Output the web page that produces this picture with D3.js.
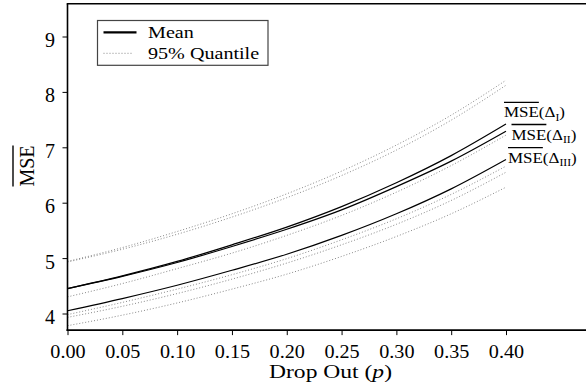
<!DOCTYPE html>
<html>
<head>
<meta charset="utf-8">
<script src="https://cdn.jsdelivr.net/npm/d3@7"></script>
<style>
  html, body { margin: 0; padding: 0; background: #fff; }
</style>
</head>
<body>
<div id="chart"></div>
<script>
// drop out probabilities
const dropOut = [0.00, 0.05, 0.10, 0.15, 0.20, 0.25, 0.30, 0.35, 0.40]
const xTicks = [0.00, 0.05, 0.10, 0.15, 0.20, 0.25, 0.30, 0.35, 0.40]
const yTicks = [4, 5, 6, 7, 8, 9]

// mean MSE curves
const meanI   = [4.45, 4.68, 4.94, 5.24, 5.56, 5.93, 6.36, 6.85, 7.42]
const meanII  = [4.45, 4.67, 4.92, 5.21, 5.52, 5.87, 6.29, 6.75, 7.29]
const meanIII = [4.05, 4.27, 4.51, 4.78, 5.07, 5.41, 5.80, 6.25, 6.78]

// 95% quantile curves
const quantA = [4.94, 5.19, 5.48, 5.80, 6.16, 6.57, 7.04, 7.58, 8.21]
const quantB = [4.93, 5.16, 5.43, 5.74, 6.09, 6.49, 6.95, 7.49, 8.12]
const quantC = [4.30, 4.54, 4.81, 5.09, 5.41, 5.77, 6.19, 6.67, 7.22]
const quantD = [3.98, 4.20, 4.44, 4.70, 4.99, 5.33, 5.71, 6.15, 6.66]
const quantE = [3.93, 4.13, 4.36, 4.62, 4.91, 5.24, 5.61, 6.04, 6.55]
const quantF = [3.78, 3.97, 4.19, 4.44, 4.71, 5.03, 5.39, 5.80, 6.28]

const curveSubs = ['I', 'II', 'III']
const legendLabels = ['Mean', '95% Quantile']

const width = 586
const height = 383
const fontFamily = '"Liberation Serif"'
const axeColor = '#000'
const quantColor = '#7a7a7a'

const svg = d3.select('#chart')
  .append('svg')
  .attr('width', width)
  .attr('height', height)
  .style('font-family', fontFamily)

const x = d3.scaleLinear()
  .domain([0, 0.4])
  .range([67.5, 506])

const y = d3.scaleLinear()
  .domain([4, 9])
  .range([313.5, 36.5])

const yBottom = y(3.70)
const yTop = y(9.59)

const line = d3.line()
  .x((d, i) => x(dropOut[i]))
  .y(d => y(d))
  .curve(d3.curveMonotoneX)

// quantile lines first, means on top
const quants = [quantA, quantB, quantC, quantD, quantE, quantF]
svg.append('g')
  .selectAll('path')
  .data(quants)
  .join('path')
  .attr('d', line)
  .attr('fill', 'none')
  .attr('stroke', quantColor)
  .attr('stroke-width', 0.9)
  .attr('stroke-dasharray', '1,2')

svg.append('g')
  .selectAll('path')
  .data([meanI, meanII, meanIII])
  .join('path')
  .attr('d', line)
  .attr('fill', 'none')
  .attr('stroke', '#000')
  .attr('stroke-width', 1.2)

// frame: left axis, bottom axis, top border
const xAxis = svg.append('g')
  .attr('transform', `translate(0,${yBottom})`)
  .call(d3.axisBottom(x).tickValues(xTicks).tickFormat(d3.format('.2f')).tickSize(5).tickSizeOuter(0))
  .attr('font-family', null)

xAxis.select('.domain').remove()
xAxis.append('line')
  .attr('x1', x(0) - 1).attr('x2', width)
  .attr('stroke', axeColor).attr('stroke-width', 1.6)
xAxis.selectAll('.tick line').attr('stroke', axeColor).attr('stroke-width', 1)
xAxis.selectAll('.tick text')
  .attr('y', 28)
  .attr('dy', null)
  .attr('transform', 'scale(1.12,1)')
  .style('font-family', fontFamily)
  .style('font-size', '18px')
  .style('fill', '#000')

const yAxis = svg.append('g')
  .attr('transform', `translate(${x(0)},0)`)
  .call(d3.axisLeft(y).tickValues(yTicks).tickFormat(d3.format('d')).tickSize(5).tickSizeOuter(0))
  .attr('font-family', null)

yAxis.select('.domain').remove()
yAxis.append('line')
  .attr('y1', yTop).attr('y2', yBottom + 0.8)
  .attr('stroke', axeColor).attr('stroke-width', 1.6)
yAxis.selectAll('.tick line').attr('stroke', axeColor).attr('stroke-width', 1)
yAxis.selectAll('.tick text')
  .attr('x', -12.5)
  .attr('y', 10)
  .attr('dy', null)
  .style('font-family', fontFamily)
  .style('font-size', '20px')
  .style('fill', '#000')

svg.append('line')
  .attr('x1', x(0) - 0.8).attr('x2', width)
  .attr('y1', yTop).attr('y2', yTop)
  .attr('stroke', axeColor).attr('stroke-width', 1.6)

// axis titles
const yTitle = svg.append('g')
  .attr('transform', 'translate(33.5,166) rotate(-90)')
const yTitleText = yTitle.append('text')
  .attr('text-anchor', 'middle')
  .style('font-family', fontFamily)
  .style('font-size', '20px')
  .text('MSE')
const yTitleWidth = yTitleText.node().getComputedTextLength()
yTitle.append('line')
  .attr('x1', -yTitleWidth / 2).attr('x2', yTitleWidth / 2)
  .attr('y1', -20.5).attr('y2', -20.5)
  .attr('stroke', '#000').attr('stroke-width', 1.4)

const xTitle = svg.append('text')
  .attr('transform', 'translate(330.5,378.3) scale(1.24,1)')
  .attr('text-anchor', 'middle')
  .style('font-family', fontFamily)
  .style('font-size', '19px')
xTitle.append('tspan').text('Drop Out (')
xTitle.append('tspan').style('font-style', 'italic').text('p')
xTitle.append('tspan').text(')')

// curve labels (the source font is a little wider than Liberation Serif)
const labelStretch = 1.17
const labelPos = [[504, 117.3], [511.5, 139.5], [508, 162.7]]
curveSubs.forEach((sub, i) => {
  const [lx, ly] = labelPos[i]
  const g = svg.append('g')
    .attr('transform', `translate(${lx},${ly}) scale(${labelStretch},1)`)
  const t = g.append('text')
    .style('font-family', fontFamily)
    .style('font-size', '14.5px')
  t.append('tspan').text('MSE(Δ')
  t.append('tspan').attr('dy', 3.5).style('font-size', '10px').text(sub)
  t.append('tspan').attr('dy', -3.5).text(')')
  const w = t.node().getSubStringLength(0, 3)
  g.append('line')
    .attr('x1', 0).attr('x2', w)
    .attr('y1', -15).attr('y2', -15)
    .attr('stroke', '#000').attr('stroke-width', 1.3)
})

// legend
svg.append('rect')
  .attr('x', 97.5).attr('y', 20.5)
  .attr('width', 170.5).attr('height', 44.8)
  .attr('fill', '#fff')
  .attr('stroke', '#444')
  .attr('stroke-width', 1.2)
  .lower()

const legendStyles = [
  { dash: null, color: '#000', sw: 2.2, len: 33 },
  { dash: '1,2', color: quantColor, sw: 0.9, len: 30 },
]
svg.append('g')
  .selectAll('g')
  .data(legendLabels)
  .join('g')
  .attr('transform', (d, i) => `translate(103.5,${32.3 + i * 21})`)
  .each(function (d, i) {
    const g = d3.select(this)
    const s = legendStyles[i]
    g.append('line')
      .attr('x1', 0).attr('x2', s.len)
      .attr('stroke', s.color)
      .attr('stroke-width', s.sw)
      .attr('stroke-dasharray', s.dash)
    g.append('text')
      .attr('transform', 'translate(44.5,5.5) scale(1.15,1)')
      .style('font-family', fontFamily)
      .style('font-size', '17.5px')
      .text(d)
  })
</script>
</body>
</html>
